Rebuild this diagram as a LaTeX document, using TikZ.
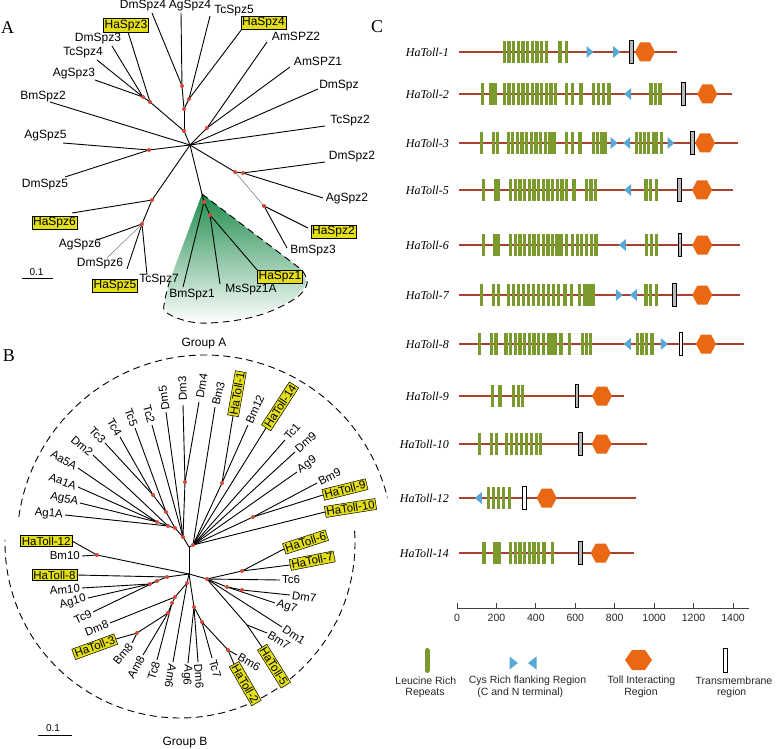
\documentclass[tikz,border=0pt]{standalone}
\usepackage{fontspec}
\setmainfont{Liberation Serif}
\setsansfont{Liberation Sans}
\definecolor{hlyellow}{RGB}{226,222,24}
\definecolor{dotred}{RGB}{214,72,60}
\definecolor{lrrgreen}{RGB}{122,154,46}
\definecolor{cysblue}{RGB}{88,168,214}
\definecolor{hexorange}{RGB}{234,104,20}
\definecolor{protred}{RGB}{168,66,46}
\definecolor{fangreen}{RGB}{30,140,75}
\tikzset{
  br/.style={line width=0.9pt},
  thinbr/.style={line width=0.35pt, black!70},
  alab/.style={font=\sffamily\fontsize{12}{14}\selectfont, inner sep=0.5pt},
  ahl/.style={alab, fill=hlyellow, draw=black, line width=0.5pt, inner sep=1.2pt},
  blab/.style={font=\sffamily\fontsize{11.5}{13}\selectfont, inner sep=2pt},
  bfar/.style={blab, inner sep=4pt},
  bhl/.style={font=\sffamily\fontsize{11.5}{13}\selectfont, fill=hlyellow, draw=black, line width=0.5pt, inner sep=1.3pt},
  grdash/.style={line width=0.9pt, dash pattern=on 7pt off 4.5pt},
  protline/.style={protred, line width=2pt},
  rowlab/.style={anchor=east, font=\itshape\fontsize{12}{14}\selectfont, inner sep=0pt},
  ticklab/.style={font=\sffamily\fontsize{10.5}{12}\selectfont, text=black!85},
  legtext/.style={font=\sffamily\fontsize{10.5}{12}\selectfont, text=black!85, inner sep=0pt},
  panlab/.style={font=\fontsize{18}{20}\selectfont, inner sep=0pt},
}
% panel A leaf: name, end, parent, label pos, label style, text, edge style
\newcommand\aleaf[7]{\coordinate (e#1) at (#2); \draw[#7] (#3) -- (e#1); \node[#5] (l#1) at (#4) {#6};}
% panel B leaf: name, end, parent, rotate, anchor, style, text
\newcommand\bleaf[7]{\coordinate (e#1) at (#2); \draw[br] (#3) -- (e#1); \node[#6, anchor=#5, rotate=#4] (l#1) at (e#1) {#7};}
% panel C
\newcommand\ccbars[2]{\foreach \bx in {#2} {\fill[lrrgreen] ({\bx-1.6},{#1-11}) rectangle ({\bx+1.6},{#1+11});}}
\newcommand\cctriR[2]{\fill[cysblue] ({#1-3.5},{#2-6}) -- ({#1+3.5},#2) -- ({#1-3.5},{#2+6}) -- cycle;}
\newcommand\cctriL[2]{\fill[cysblue] ({#1+3.5},{#2-6}) -- ({#1-3.5},#2) -- ({#1+3.5},{#2+6}) -- cycle;}
\newcommand\cctm[3]{\draw[line width=0.9pt, fill=#3] ({#1-1.8},{#2-11.5}) rectangle ({#1+1.8},{#2+11.5});}
\newcommand\cchex[2]{\fill[hexorange] ({#1-10},#2) -- ({#1-5},{#2-9.5}) -- ({#1+5},{#2-9.5}) -- ({#1+10},#2) -- ({#1+5},{#2+9.5}) -- ({#1-5},{#2+9.5}) -- cycle;}
\newcommand\ccrow[3]{\node[rowlab] (row#1) at (449,#2) {HaToll-#1}; \draw[protline] (459,#2) -- (#3,#2);}
\begin{document}
\begin{tikzpicture}[x=1pt,y=-1pt]
\useasboundingbox (0,0) rectangle (777,749);
\fill[white] (0,0) rectangle (777,749);
% ---------------- panel labels
\node[panlab] (pA) at (7.5,28) {A};
\node[panlab] (pB) at (9,356) {B};
\node[panlab] (pC) at (377,26.5) {C};
% ================= PANEL A
\coordinate (aR) at (190,145);
\coordinate (a1) at (184,131);
\coordinate (a2) at (184,109);
\coordinate (a3) at (182,86);
\coordinate (a4) at (189,99);
\coordinate (a5) at (150,102);
\coordinate (a6) at (143,97);
\coordinate (a7) at (149,150);
\coordinate (a8) at (207,128);
\coordinate (a9) at (152,200);
\coordinate (a10) at (142,224);
\coordinate (a11) at (202,194);
\coordinate (a12) at (204,202);
\coordinate (a13) at (210,215);
\coordinate (a14) at (235,172);
\coordinate (a15) at (243,173);
\coordinate (a16) at (264,206);
% fan of group A
\shade[top color=fangreen, middle color=fangreen!30!white, bottom color=white]
  (a11) -- (302,270) -- (307,284) -- (293,300) -- (253,317) -- (200,323) -- (167,313) -- (165,300) -- (170,280) -- cycle;
\draw[grdash] (a11) -- (302,270) -- plot[smooth, tension=0.6] coordinates {(302,270) (307,284) (293,300) (253,317) (200,323) (167,313) (165,300) (170,280)};
\foreach \p/\c in {aR/a1, a1/a2, a2/a3, a2/a4, a1/a5, a5/a6, aR/a7, aR/a8, aR/a9, a9/a10, aR/a11, a11/a12, a12/a13, aR/a14, a14/a15}
  \draw[br] (\p) -- (\c);
\draw[thinbr] (a14) -- (a16);
\aleaf{DmSpzFour}{152,13}{a3}{143,5.5}{alab}{DmSpz4}{br}
\aleaf{AgSpzFour}{181,13}{a3}{190,5.5}{alab}{AgSpz4}{br}
\aleaf{TcSpzFive}{210,16}{a4}{234,10.5}{alab}{TcSpz5}{br}
\aleaf{HaSpzFour}{242,29}{a4}{263.5,23}{ahl}{HaSpz4}{br}
\aleaf{AmSPZTwo}{267,42}{a8}{296,36}{alab}{AmSPZ2}{br}
\aleaf{AmSPZOne}{290,67}{a8}{318,61}{alab}{AmSPZ1}{br}
\aleaf{DmSpz}{318,89}{aR}{339,86}{alab}{DmSpz}{br}
\aleaf{TcSpzTwo}{325,126}{aR}{350,121}{alab}{TcSpz2}{br}
\aleaf{DmSpzTwo}{325,162}{a15}{352,157}{alab}{DmSpz2}{br}
\aleaf{AgSpzTwo}{323,198}{a15}{347,198.5}{alab}{AgSpz2}{br}
\aleaf{HaSpzTwo}{308,228}{a16}{333.5,231.5}{ahl}{HaSpz2}{br}
\aleaf{BmSpzThree}{287,248}{a16}{313,251}{alab}{BmSpz3}{br}
\aleaf{HaSpzOne}{258,271}{a13}{280,277}{ahl}{HaSpz1}{br}
\aleaf{MsSpzOneA}{220,284}{a13}{251,290}{alab}{MsSpz1A}{br}
\aleaf{BmSpzOne}{183,287}{a12}{192,295}{alab}{BmSpz1}{br}
\aleaf{TcSpzSeven}{147,275}{a10}{159,280}{alab}{TcSpz7}{br}
\aleaf{HaSpzFive}{127,269}{a10}{115,285.5}{ahl}{HaSpz5}{br}
\aleaf{DmSpzSix}{107,258}{a10}{100,264}{alab}{DmSpz6}{thinbr}
\aleaf{AgSpzSix}{97,240}{a10}{80,245}{alab}{AgSpz6}{br}
\aleaf{HaSpzSix}{72,213}{a9}{54.5,223}{ahl}{HaSpz6}{br}
\aleaf{DmSpzFive}{65,177}{a7}{45,185}{alab}{DmSpz5}{br}
\aleaf{AgSpzFive}{63,143}{a7}{45.5,136}{alab}{AgSpz5}{br}
\aleaf{BmSpzTwo}{50,102}{aR}{43,97}{alab}{BmSpz2}{br}
\aleaf{AgSpzThree}{95,80}{a6}{74,74}{alab}{AgSpz3}{br}
\aleaf{TcSpzFour}{97,60}{a6}{83,53}{alab}{TcSpz4}{br}
\aleaf{DmSpzThree}{112,46}{a6}{98,39}{alab}{DmSpz3}{br}
\aleaf{HaSpzThree}{128,32}{a5}{126,25.3}{ahl}{HaSpz3}{br}
\foreach \d in {a1,a2,a3,a4,a5,a6,a7,a8,a9,a10,a12,a13,a14,a15,a16}
  \fill[dotred] (\d) circle[radius=2pt];
% scale bar A
\coordinate (sa1) at (22,278); \coordinate (sa2) at (53,278);
\draw[line width=0.8pt] (sa1) -- (sa2);
\node[font=\sffamily\fontsize{10}{12}\selectfont] (sA) at (36.5,272) {0.1};
\node[font=\sffamily\fontsize{12}{14}\selectfont] (gA) at (204,344) {Group A};
% ================= PANEL B
\draw[grdash] plot[domain=-172:-14, samples=90, smooth] ({205+188*cos(\x)},{543+188*sin(\x)});
\draw[grdash] plot[domain=-4:181, samples=90, smooth] ({180+175*cos(\x)},{543+175*sin(\x)});
\coordinate (bR1) at (189,547);
\coordinate (bR2) at (189,574);
\coordinate (bU) at (183,537);
\coordinate (bV) at (193,545);
\coordinate (b34) at (185,482);
\coordinate (bc1) at (175,528);
\coordinate (bc2) at (168,526);
\coordinate (bc3) at (166,512);
\coordinate (bc4) at (157,522);
\coordinate (bc5) at (153,495);
\coordinate (bh1) at (222,483);
\coordinate (bh9) at (253,517);
\coordinate (b12) at (97,555);
\coordinate (bL) at (167,577);
\coordinate (bt9) at (157,581);
\coordinate (ba10) at (150,584);
\coordinate (bL2) at (187,583);
\coordinate (bd8) at (175,597);
\coordinate (bt8) at (172,603);
\coordinate (b88) at (168,613);
\coordinate (bh3) at (137,633);
\coordinate (b66) at (194,607);
\coordinate (bt7) at (202,622);
\coordinate (bh2) at (228,650);
\coordinate (bRR) at (207,579);
\coordinate (bh5) at (247,625);
\coordinate (ba7) at (227,587);
\coordinate (bd7) at (242,590);
\coordinate (bh6) at (242,571);
\foreach \p/\c in {bR1/bR2, bR1/bU, bR1/bV, bU/b34, bU/bc1, bc1/bc3, bc3/bc5, bc1/bc2, bc2/bc4,
  bV/bh1, bV/bh9, bR2/b12, bR2/bL, bL/bt9, bt9/ba10, bR2/bL2, bL2/bd8, bd8/bt8, bt8/b88, b88/bh3,
  bR2/b66, b66/bt7, bt7/bh2, bR2/bRR, bRR/bh5, bRR/ba7, ba7/bd7, bRR/bh6}
  \draw[br] (\p) -- (\c);
\bleaf{Dm3}{183,405}{b34}{91.5}{west}{bfar}{Dm3}
\bleaf{Dm4}{199,402}{b34}{80}{west}{bfar}{Dm4}
\bleaf{Dm5}{166,412}{bU}{97.7}{west}{blab}{Dm5}
\bleaf{Tc2}{152,425}{bU}{-74.5}{east}{blab}{Tc2}
\bleaf{Tc5}{135,428}{bc3}{-70}{east}{blab}{Tc5}
\bleaf{Tc4}{120,437}{bc5}{-60}{east}{blab}{Tc4}
\bleaf{Tc3}{105,443}{bc5}{-47}{east}{blab}{Tc3}
\bleaf{Dm2}{93,455}{bc2}{-40}{east}{blab}{Dm2}
\bleaf{AaFiveA}{78,468}{bc4}{-30}{east}{blab}{Aa5A}
\bleaf{AaOneA}{78,487}{bc4}{-20}{east}{blab}{Aa1A}
\bleaf{AgFiveA}{80,503}{bc4}{-12}{east}{blab}{Ag5A}
\bleaf{AgOneA}{65,515}{bc2}{-4}{east}{blab}{Ag1A}
\bleaf{Bm3}{215,407}{bV}{76}{west}{blab}{Bm3}
\bleaf{HTone}{233,416}{bh1}{80}{west}{bhl}{HaToll-1}
\bleaf{Bm12}{248,425}{bh1}{66}{west}{blab}{Bm12}
\bleaf{HTfourteen}{266,428}{bV}{57}{west}{bhl}{HaToll-14}
\bleaf{Tc1}{285,440}{bV}{49}{west}{blab}{Tc1}
\bleaf{Dm9}{295,452}{bV}{42}{west}{blab}{Dm9}
\bleaf{Ag9}{297,472}{bV}{35}{west}{blab}{Ag9}
\bleaf{Bm9}{317,483}{bh9}{27}{west}{blab}{Bm9}
\bleaf{HTnine}{323,495}{bh9}{14}{west}{bhl}{HaToll-9}
\bleaf{HTten}{325,512}{bV}{9}{west}{bhl}{HaToll-10}
\bleaf{HTtwelve}{72,541}{b12}{0}{east}{bhl}{HaToll-12}
\bleaf{Bm10}{82,556}{b12}{0}{east}{blab}{Bm10}
\bleaf{HTeight}{77,575}{bL}{0}{east}{bhl}{HaToll-8}
\bleaf{Am10}{82,588}{ba10}{5}{east}{blab}{Am10}
\bleaf{Ag10}{88,598}{ba10}{15}{east}{blab}{Ag10}
\bleaf{Tc9}{93,612}{bt9}{25}{east}{blab}{Tc9}
\bleaf{Dm8}{110,623}{bd8}{22}{east}{blab}{Dm8}
\bleaf{HTthree}{116,639}{bh3}{20}{east}{bhl}{HaToll-3}
\bleaf{Bm8}{132,643}{bh3}{50}{east}{blab}{Bm8}
\bleaf{Am8}{143,655}{b88}{60}{east}{blab}{Am8}
\bleaf{Tc8}{157,660}{bt8}{73}{east}{blab}{Tc8}
\bleaf{Am6}{173,662}{bL2}{-100}{west}{blab}{Am6}
\bleaf{Ag6}{188,663}{b66}{-95}{west}{blab}{Ag6}
\bleaf{Dm6}{198,662}{b66}{-86}{west}{blab}{Dm6}
\bleaf{Tc7}{212,658}{bt7}{-74}{west}{blab}{Tc7}
\bleaf{Bm6}{237,655}{bh2}{-30}{west}{blab}{Bm6}
\bleaf{HTtwo}{234,664}{bh2}{-60}{west}{bhl}{HaToll-2}
\bleaf{HTfive}{262,647}{bh5}{-58}{west}{bhl}{HaToll-5}
\bleaf{Bm7}{267,633}{bh5}{-32}{west}{blab}{Bm7}
\bleaf{Dm1}{282,627}{bRR}{-33}{west}{blab}{Dm1}
\bleaf{Ag7}{275,603}{ba7}{-18}{west}{blab}{Ag7}
\bleaf{Dm7}{290,595}{bd7}{-8}{west}{blab}{Dm7}
\bleaf{Tc6}{280,580}{bRR}{0}{west}{blab}{Tc6}
\bleaf{HTsix}{284,549}{bh6}{18}{west}{bhl}{HaToll-6}
\bleaf{HTseven}{290,565}{bh6}{11}{west}{bhl}{HaToll-7}
\foreach \d in {bU,bV,b34,bc1,bc2,bc3,bc4,bc5,bh1,bh9,b12,bL,bt9,ba10,bL2,bd8,bt8,b88,bh3,b66,bt7,bh2,bRR,ba7,bd7,bh6}
  \fill[dotred] (\d) circle[radius=2pt];
% scale bar B
\coordinate (sb1) at (38,735); \coordinate (sb2) at (72,735);
\draw[line width=0.8pt] (sb1) -- (sb2);
\node[font=\sffamily\fontsize{10}{12}\selectfont] (sB) at (53,728) {0.1};
\node[font=\sffamily\fontsize{12}{14}\selectfont] (gB) at (185,743) {Group B};
% ================= PANEL C
\ccrow{1}{52}{677}
\ccbars{52}{504.3,509,513.7,518.3,523,527.7,532.3,537,541.7,546.3,560,566.7}
\cctriR{590}{52}\cctriR{616.7}{52}\cctm{631.7}{52}{gray!55}\cchex{645}{52}
\ccrow{2}{94}{732}
\ccbars{94}{482.3,491,495,504.3,509,513.7,518.3,523,527.7,532.3,537,541.7,546.3,551,555.7,566.7,572.7,581,593.3,598.3,603.3,609,651,655.7,660}
\cctriL{627.7}{94}\cctm{683.7}{94}{gray!55}\cchex{707.3}{94}
\ccrow{3}{143}{738}
\ccbars{143}{481.7,493.3,497.3,508.3,512.7,517.3,522,526.7,531.3,536,540.7,545.3,550,554,566.7,572.7,580,593.3,597.3,601.7,605,636.7,640.7,644.7,648.7,653.3,656.7,661.7}
\cctriR{614}{143}\cctriL{626.7}{143}\cctriR{671}{143}\cctm{692.3}{143}{gray!55}\cchex{705}{143}
\ccrow{5}{190}{733}
\ccbars{190}{483.3,495.3,498.3,510.7,515.3,520,524.7,529.3,534,538.7,543.3,548,552.7,557.3,562,566.7,574,586.7,591,595.7,646,650.7,656.7}
\cctriL{627.7}{190}\cctm{679.7}{190}{gray!55}\cchex{702}{190}
\ccrow{6}{245}{740}
\ccbars{245}{483.3,495,498.3,510.7,515.3,520,524.7,529.3,534,538.7,543.3,548,552.7,557,561,566.7,572.7,577.3,581.7,586.7,591.7,596,646.7,651.3,656.7}
\cctriL{622.3}{245}\cctm{680}{245}{gray!55}\cchex{702.3}{245}
\ccrow{7}{295}{740}
\ccbars{295}{481.7,493.3,498.3,508.3,513.3,518.3,523.3,528.3,533.3,538.3,543.3,548.3,553.3,558.3,565,571.7,579.3,585,589,593,646,650.7,656.7}
\cctriR{619.3}{295}\cctriL{633.3}{295}\cctm{674.7}{295}{gray!55}\cchex{702.3}{295}
\ccrow{8}{344}{744}
\ccbars{344}{479.3,491.7,496,506,510.7,515.3,520,524.7,529.3,534,538.7,543.3,548.3,551.7,555,561,569.3,582.3,586.7,590.7,637.3,642,646.7,652}
\cctriL{627.3}{344}\cctriR{664.3}{344}\cctm{681}{344}{white}\cchex{706}{344}
\ccrow{9}{396}{624}
\ccbars{396}{492.7,500,513.3,518.3,522.7}
\cctm{577}{396}{gray!55}\cchex{602}{396}
\ccrow{10}{444}{647}
\ccbars{444}{479.3,491.7,496.7,506.7,511.7,516.7,521.7,526.7,531.7,536.7,540.7}
\cctm{580.7}{444}{gray!55}\cchex{601.7}{444}
\ccrow{12}{498}{636}
\ccbars{498}{488.7,493.3,498.3,503.3,509.3}
\cctriL{478.3}{498}\cctm{524.3}{498}{white}\cchex{546.7}{498}
\ccrow{14}{553}{634}
\ccbars{553}{484,495,499,510.7,515.3,520,524.7,529.3,534,538.7,544,552.3}
\cctm{580.7}{553}{gray!55}\cchex{600.7}{553}
% axis
\coordinate (ax0) at (457,608); \coordinate (ax1) at (749,608);
\draw[black!75, line width=0.9pt] (ax0) -- (ax1);
\foreach \v [count=\i from 0] in {0,200,400,600,800,1000,1200,1400} {
  \draw[black!75, line width=0.9pt] ({457+39.43*\i},608) -- ({457+39.43*\i},603);
  \node[ticklab] (tk\i) at ({457+39.43*\i},618) {\v};
}
% legend
\draw[lrrgreen, line width=5pt, line cap=round] (427,650.5) -- (427,670.5);
\fill[cysblue] (509.5,656.5) -- (518,663) -- (509.5,669.5) -- cycle;
\fill[cysblue] (536.5,656.5) -- (528,663) -- (536.5,669.5) -- cycle;
\fill[hexorange] (625,660) -- (632,650) -- (645,650) -- (652,660) -- (645,670) -- (632,670) -- cycle;
\draw[line width=1.2pt, fill=white] (723.8,648.5) rectangle (727.8,672.5);
\node[legtext] (lg1) at (425.8,681) {Leucine Rich};
\node[legtext] (lg2) at (425,693) {Repeats};
\node[legtext] (lg3) at (527.5,681) {Cys Rich flanking Region};
\node[legtext] (lg4) at (520.3,693) {(C and N terminal)};
\node[legtext] (lg5) at (641.5,681) {Toll Interacting};
\node[legtext] (lg6) at (641,693) {Region};
\node[legtext] (lg7) at (734,681) {Transmembrane};
\node[legtext] (lg8) at (731.7,693) {region};
\end{tikzpicture}
\end{document}
